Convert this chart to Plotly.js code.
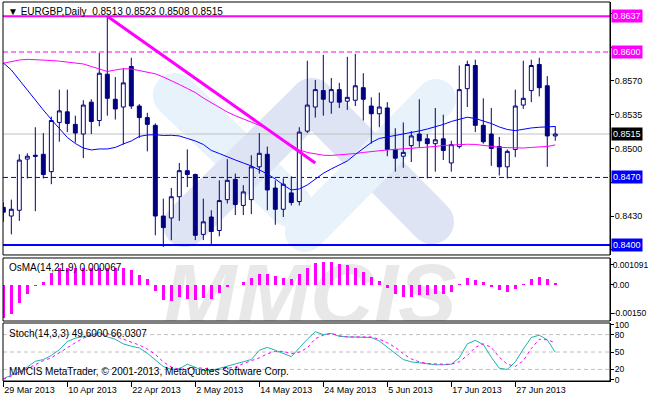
<!DOCTYPE html>
<html><head><meta charset="utf-8">
<script src="https://cdn.plot.ly/plotly-3.0.1.min.js"></script>
<style>html,body{margin:0;padding:0;background:#fff}#chart{width:650px;height:400px}</style>
</head><body><div id="chart"></div>
<script>
const dates = ['2013-03-29',
'2013-04-01','2013-04-02','2013-04-03','2013-04-04','2013-04-05',
'2013-04-08','2013-04-09','2013-04-10','2013-04-11','2013-04-12',
'2013-04-15','2013-04-16','2013-04-17','2013-04-18','2013-04-19',
'2013-04-22','2013-04-23','2013-04-24','2013-04-25','2013-04-26',
'2013-04-29','2013-04-30','2013-05-01','2013-05-02','2013-05-03',
'2013-05-06','2013-05-07','2013-05-08','2013-05-09','2013-05-10',
'2013-05-13','2013-05-14','2013-05-15','2013-05-16','2013-05-17',
'2013-05-20','2013-05-21','2013-05-22','2013-05-23','2013-05-24',
'2013-05-27','2013-05-28','2013-05-29','2013-05-30','2013-05-31',
'2013-06-03','2013-06-04','2013-06-05','2013-06-06','2013-06-07',
'2013-06-10','2013-06-11','2013-06-12','2013-06-13','2013-06-14',
'2013-06-17','2013-06-18','2013-06-19','2013-06-20','2013-06-21',
'2013-06-24','2013-06-25','2013-06-26','2013-06-27','2013-06-28',
'2013-07-01','2013-07-02','2013-07-03','2013-07-04'];

const open = [0.8439,0.8430,0.8436,0.8489,0.8493,0.8494,0.8476,0.8527,0.8538,0.8525,
0.8515,0.8548,0.8529,0.8577,0.8551,0.8543,0.8585,0.8544,0.8532,0.8524,
0.8430,0.8428,0.8450,0.8477,0.8473,0.8411,0.8429,0.8415,0.8447,0.8468,
0.8441,0.8447,0.8481,0.8494,0.8459,0.8437,0.8454,0.8445,0.8518,0.8543,
0.8560,0.8548,0.8561,0.8549,0.8550,0.8563,0.8544,0.8536,0.8542,0.8499,
0.8492,0.8503,0.8515,0.8510,0.8505,0.8510,0.8485,0.8502,0.8562,0.8586,
0.8524,0.8515,0.8502,0.8481,0.8499,0.8545,0.8560,0.8587,0.8565,0.8513];
const high = [0.8444,0.8447,0.8494,0.8495,0.8522,0.8516,0.8533,0.8561,0.8561,0.8534,
0.8550,0.8551,0.8599,0.8637,0.8574,0.8583,0.8594,0.8546,0.8537,0.8526,
0.8448,0.8459,0.8485,0.8499,0.8474,0.8448,0.8436,0.8467,0.8489,0.8474,
0.8462,0.8493,0.8516,0.8502,0.8467,0.8469,0.8471,0.8522,0.8591,0.8571,
0.8597,0.8573,0.8568,0.8595,0.8598,0.8578,0.8553,0.8558,0.8548,0.8521,
0.8527,0.8518,0.8551,0.8515,0.8542,0.8535,0.8508,0.8586,0.8591,0.8592,
0.8552,0.8542,0.8512,0.8499,0.8561,0.8591,0.8592,0.8594,0.8575,0.8523];
const low = [0.8424,0.8411,0.8425,0.8469,0.8435,0.8469,0.8463,0.8507,0.8517,0.8506,
0.8490,0.8515,0.8523,0.8534,0.8530,0.8504,0.8541,0.8511,0.8497,0.8410,
0.8398,0.8405,0.8425,0.8460,0.8405,0.8405,0.8400,0.8409,0.8443,0.8431,
0.8431,0.8432,0.8474,0.8436,0.8421,0.8429,0.8441,0.8441,0.8516,0.8532,
0.8534,0.8536,0.8542,0.8540,0.8544,0.8529,0.8505,0.8522,0.8492,0.8476,
0.8480,0.8486,0.8501,0.8469,0.8476,0.8488,0.8476,0.8500,0.8543,0.8517,
0.8505,0.8482,0.8472,0.8469,0.8491,0.8541,0.8548,0.8554,0.8481,0.8508];
const close = [0.8434,0.8437,0.8488,0.8492,0.8492,0.8473,0.8529,0.8539,0.8526,0.8516,
0.8545,0.8528,0.8578,0.8552,0.8541,0.8568,0.8544,0.8532,0.8525,0.8430,
0.8418,0.8450,0.8477,0.8473,0.8410,0.8424,0.8414,0.8446,0.8467,0.8442,
0.8455,0.8481,0.8495,0.8457,0.8437,0.8463,0.8444,0.8517,0.8545,0.8561,
0.8551,0.8561,0.8548,0.8553,0.8565,0.8551,0.8536,0.8543,0.8499,0.8490,
0.8496,0.8513,0.8508,0.8505,0.8509,0.8498,0.8504,0.8561,0.8587,0.8524,
0.8507,0.8500,0.8481,0.8497,0.8544,0.8552,0.8586,0.8563,0.8513,0.8515];

const maFast = [0.85886,0.85814,0.85710,0.85606,0.85492,0.85399,0.85301,0.85202,0.85114,0.85052,
0.85005,0.84985,0.84995,0.84995,0.85011,0.85047,0.85078,0.85125,0.85140,0.85143,
0.85135,0.85137,0.85130,0.85104,0.85078,0.85042,0.84980,0.84948,0.84912,0.84881,
0.84850,0.84819,0.84778,0.84736,0.84684,0.84622,0.84570,0.84581,0.84622,0.84684,
0.84743,0.84788,0.84829,0.84871,0.84938,0.85005,0.85062,0.85104,0.85119,0.85135,
0.85150,0.85166,0.85182,0.85202,0.85223,0.85249,0.85280,0.85306,0.85324,0.85311,
0.85285,0.85259,0.85223,0.85197,0.85185,0.85202,0.85213,0.85220,0.85226,0.85228];
const maSlow = [0.85883,0.85902,0.85917,0.85924,0.85922,0.85917,0.85912,0.85905,0.85896,0.85886,
0.85876,0.85850,0.85824,0.85798,0.85814,0.85827,0.85824,0.85808,0.85793,0.85774,
0.85741,0.85705,0.85663,0.85622,0.85580,0.85523,0.85472,0.85420,0.85378,0.85340,
0.85306,0.85275,0.85244,0.85207,0.85140,0.85088,0.85037,0.84985,0.84959,0.84943,
0.84930,0.84928,0.84933,0.84938,0.84948,0.84959,0.84969,0.84974,0.84985,0.84990,
0.84995,0.85000,0.85005,0.85016,0.85021,0.85031,0.85036,0.85042,0.85044,0.85042,
0.85031,0.85021,0.85013,0.85009,0.85005,0.85005,0.85011,0.85016,0.85021,0.85037];

const osma = [-0.00139,-0.00120,-0.00077,-0.00040,-0.00006,0.00012,0.00046,0.00066,0.00066,0.00066,
0.00066,0.00066,0.00066,0.00069,0.00069,0.00066,0.00059,0.00040,0.00022,-0.00025,
-0.00065,-0.00068,-0.00050,-0.00060,-0.00065,-0.00057,-0.00060,-0.00036,-0.00009,-0.00003,
0.00012,0.00028,0.00045,0.00045,0.00036,0.00028,0.00022,0.00045,0.00069,0.00087,
0.00094,0.00094,0.00083,0.00080,0.00069,0.00050,0.00032,0.00014,-0.00013,-0.00040,
-0.00050,-0.00050,-0.00043,-0.00043,-0.00040,-0.00040,-0.00029,0.00002,0.00025,0.00018,
0.00009,-0.00010,-0.00023,-0.00029,-0.00019,0.00002,0.00023,0.00032,0.00023,0.000067];

const stochMain = [4,10,16,24,34,37,44,54,68,74,
77,79,84,76,72,64,60,57,48,37,
25,20,21,29,24,18,18,22,26,30,
33,37,53,58,53,47,42,57,72,85,
80,82,77,76,76,76,75,69,58,48,
37,33,31,29,28,28,29,40,64,70,
63,41,22,20,33,55,75,79,71,49.6];
const stochSignal = [3,8,14,21,28,35,40,49,57,66,
74,78,80,82,77,72,66,62,55,46,
33,24,20,22,23,22,20,20,22,24,
30,35,40,47,51,51,47,50,57,73,
79,82,78,76,76,76,76,72,66,58,
47,38,33,30,29,29,29,33,44,58,
64,58,41,29,25,35,56,72,71,66.0307];

const trendX = ['2013-04-17','2013-05-23'];
const trendY = [0.8637,0.8485];
const levelPrices = [0.8637,0.8600,0.8515,0.8470,0.8400];
const priceTickVals = [0.8395,0.8430,0.8465,0.8500,0.8535,0.8570,0.8605,0.8640];
const priceTickText = ['','0.8430','','0.8500','0.8535','0.8570','',''];
const dateTickVals = ['2013-03-29','2013-04-10','2013-04-22','2013-05-02','2013-05-14','2013-05-24','2013-06-05','2013-06-17','2013-06-27'];
const dateTickText = ['29 Mar 2013','10 Apr 2013','22 Apr 2013','2 May 2013','14 May 2013','24 May 2013','5 Jun 2013','17 Jun 2013','27 Jun 2013'];
const osmaTickVals = [0.000803,0,-0.00119];
const osmaTickText = ['0.001091','0.00','-0.00150'];
const stochTickVals = [97,80,50,20,2];
const stochTickText = ['100','80','50','20','0'];
const stochLevels = [20,50,80];

const FONT = 'Liberation Sans, Arial, sans-serif';
const NAVY = '#000080', MAG = '#FF00FF', BLUE = '#0000FF';

// pixel -> paper helpers for the decorative watermark
function P(x,y){return ((x-3)/607).toFixed(5)+','+((381-y)/379).toFixed(5);}
function stadium(ax,ay,bx,by,w){
  const dx=bx-ax, dy=by-ay, L=Math.hypot(dx,dy), ux=dx/L, uy=dy/L, nx=-uy, ny=ux, r=w/2, k=0.5523*r;
  let d='M'+P(ax+nx*r,ay+ny*r);
  d+=' L'+P(bx+nx*r,by+ny*r);
  d+=' C'+P(bx+nx*r+ux*k,by+ny*r+uy*k)+' '+P(bx+ux*r+nx*k,by+uy*r+ny*k)+' '+P(bx+ux*r,by+uy*r);
  d+=' C'+P(bx+ux*r-nx*k,by+uy*r-ny*k)+' '+P(bx-nx*r+ux*k,by-ny*r+uy*k)+' '+P(bx-nx*r,by-ny*r);
  d+=' L'+P(ax-nx*r,ay-ny*r);
  d+=' C'+P(ax-nx*r-ux*k,ay-ny*r-uy*k)+' '+P(ax-ux*r-nx*k,ay-uy*r-ny*k)+' '+P(ax-ux*r,ay-uy*r);
  d+=' C'+P(ax-ux*r+nx*k,ay-uy*r+ny*k)+' '+P(ax+nx*r-ux*k,ay+ny*r-uy*k)+' '+P(ax+nx*r,ay+ny*r)+' Z';
  return d;
}
const PALE='#e7f2fb', LAV='#dfe4f5';
const shapes = [
  {type:'path',xref:'paper',yref:'paper',layer:'below',path:stadium(175,95,290,205,44),fillcolor:PALE,line:{width:0}},
  {type:'path',xref:'paper',yref:'paper',layer:'below',path:stadium(185,225,312,100,44),fillcolor:LAV,line:{width:0}},
  {type:'path',xref:'paper',yref:'paper',layer:'below',path:stadium(312,100,432,222,44),fillcolor:LAV,line:{width:0}},
  {type:'path',xref:'paper',yref:'paper',layer:'below',path:stadium(305,232,436,99,40),fillcolor:PALE,line:{width:0}}
];
const levelStyle = [
  {color:MAG,width:2,dash:'solid'},
  {color:MAG,width:1,dash:'5px,3px'},
  {color:'#C0C0C0',width:1,dash:'solid'},
  {color:BLUE,width:1,dash:'5px,3px'},
  {color:BLUE,width:2,dash:'solid'}
];
const boxColors = [MAG,MAG,'#000000',BLUE,BLUE];
levelPrices.forEach((p,i)=>{
  shapes.push({type:'line',xref:'paper',x0:0,x1:1,yref:'y',y0:p,y1:p,layer:'below',line:levelStyle[i]});
});
stochLevels.forEach(v=>{
  shapes.push({type:'line',xref:'paper',x0:0,x1:1,yref:'y3',y0:v,y1:v,layer:'below',line:{color:'#C0C0C0',width:1,dash:'4px,3px'}});
});
['y','y2','y3'].forEach(a=>{
  shapes.push({type:'rect',xref:'paper',x0:0,x1:1,yref:a+' domain',y0:0,y1:1,layer:'above',line:{color:'#000',width:1},fillcolor:'rgba(0,0,0,0)'});
});

const annotations = [];
levelPrices.forEach((p,i)=>{
  annotations.push({xref:'paper',x:1,xanchor:'left',xshift:1,yref:'y',y:p,yanchor:'middle',text:p.toFixed(4),showarrow:false,
    bgcolor:boxColors[i],borderpad:1,font:{family:FONT,size:9,color:'#fff'}});
});
const n = close.length-1;
annotations.push({xref:'paper',x:0,xanchor:'left',xshift:3,yref:'y domain',y:1,yanchor:'top',yshift:-2,showarrow:false,
  text:'▼ EURGBP,Daily  '+[open[n],high[n],low[n],close[n]].map(v=>v.toFixed(4)).join(' '),font:{family:FONT,size:10,color:'#000'}});
annotations.push({xref:'paper',x:0,xanchor:'left',xshift:4,yref:'y2 domain',y:1,yanchor:'top',yshift:-2,showarrow:false,
  text:'OsMA(14,21,9) '+osma[n].toFixed(6),font:{family:FONT,size:10,color:'#000'}});
annotations.push({xref:'paper',x:0,xanchor:'left',xshift:4,yref:'y3 domain',y:1,yanchor:'top',yshift:-3,showarrow:false,
  text:'Stoch(14,3,3) '+stochMain[n].toFixed(4)+' '+stochSignal[n].toFixed(4),font:{family:FONT,size:10,color:'#000'}});
annotations.push({xref:'paper',x:0,xanchor:'left',xshift:4,yref:'y3 domain',y:0,yanchor:'bottom',yshift:2,showarrow:false,
  text:'MMCIS MetaTrader, © 2001-2013, MetaQuotes Software Corp.',font:{family:FONT,size:10,color:'#000'}});

const traces = [
  {type:'candlestick',x:dates,open:open,high:high,low:low,close:close,xaxis:'x',yaxis:'y',whiskerwidth:0,
   increasing:{line:{color:NAVY,width:1},fillcolor:'#FFFFFF'},decreasing:{line:{color:NAVY,width:1},fillcolor:NAVY},hoverinfo:'skip'},
  {type:'scatter',mode:'lines',x:dates,y:maSlow,line:{color:MAG,width:1},xaxis:'x',yaxis:'y',hoverinfo:'skip'},
  {type:'scatter',mode:'lines',x:dates,y:maFast,line:{color:BLUE,width:1},xaxis:'x',yaxis:'y',hoverinfo:'skip'},
  {type:'scatter',mode:'lines',x:trendX,y:trendY,line:{color:MAG,width:3},xaxis:'x',yaxis:'y',hoverinfo:'skip'},
  {type:'scatter',mode:'text',x:['2013-04-26'],y:[-0.00076],text:['MMCIS'],textposition:'middle right',cliponaxis:true,
   textfont:{family:FONT,size:88,color:'#e8e8e8',weight:'bold',style:'italic'},xaxis:'x',yaxis:'y2',hoverinfo:'skip'},
  {type:'bar',x:dates,y:osma,width:0.4,marker:{color:MAG,line:{width:0}},xaxis:'x',yaxis:'y4',hoverinfo:'skip'},
  {type:'scatter',mode:'lines',x:dates,y:stochMain,line:{color:'#20B2AA',width:1},xaxis:'x',yaxis:'y3',hoverinfo:'skip'},
  {type:'scatter',mode:'lines',x:dates,y:stochSignal,line:{color:MAG,width:1,dash:'3px,3px'},xaxis:'x',yaxis:'y3',hoverinfo:'skip'}
];

const yCommon = {side:'right',anchor:'x',ticks:'outside',ticklen:3,tickcolor:'#000',showline:true,linecolor:'#000',linewidth:1,
  showgrid:false,zeroline:false,fixedrange:true,ticklabelstandoff:-1,tickfont:{family:FONT,size:9,color:'#000'}};
const layout = {
  width:650,height:400,margin:{l:3,r:40,t:2,b:19},paper_bgcolor:'#FFFFFF',plot_bgcolor:'rgba(0,0,0,0)',showlegend:false,
  font:{family:FONT,size:9,color:'#000'},bargap:0,
  xaxis:{type:'category',categoryorder:'array',categoryarray:dates,range:[-0.04,75.84],anchor:'y3',domain:[0,1],
    rangeslider:{visible:false},tickvals:dateTickVals,ticktext:dateTickText,ticks:'outside',ticklen:5,tickcolor:'#000',
    showline:true,linecolor:'#000',linewidth:1,showgrid:false,zeroline:false,ticklabelposition:'outside right',
    tickfont:{family:FONT,size:9,color:'#000'},fixedrange:true},
  yaxis:Object.assign({},yCommon,{domain:[0.3325,1],range:[0.838964,0.865181],tickvals:priceTickVals,ticktext:priceTickText}),
  yaxis2:Object.assign({},yCommon,{domain:[0.15831,0.32454],range:[-0.0015,0.001091],tickvals:osmaTickVals,ticktext:osmaTickText,
    ticklabelstandoff:-3,tickfont:{family:FONT,size:8.5,color:'#000'}}),
  yaxis4:{overlaying:'y2',anchor:'x',side:'right',range:[-0.0015,0.001091],visible:false,fixedrange:true},
  yaxis3:Object.assign({},yCommon,{domain:[0,0.15303],range:[0,100],tickvals:stochTickVals,ticktext:stochTickText,
    tickfont:{family:FONT,size:8.5,color:'#000'}}),
  shapes:shapes,annotations:annotations
};
Plotly.newPlot('chart',traces,layout,{staticPlot:true,displayModeBar:false});
</script></body></html>
